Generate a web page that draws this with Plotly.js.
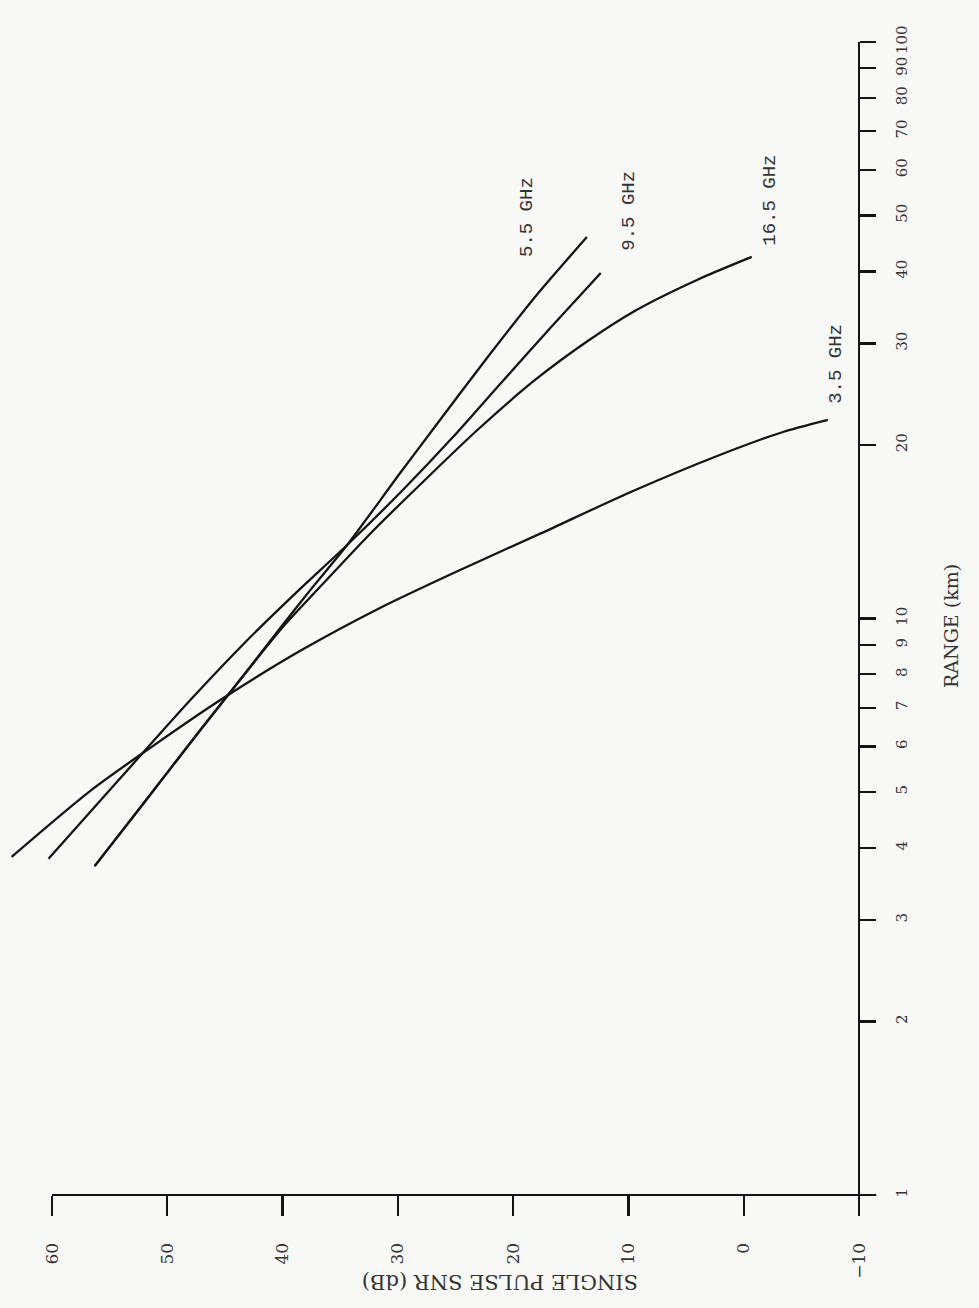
<!DOCTYPE html>
<html>
<head>
<meta charset="utf-8">
<script src="https://cdn.plot.ly/plotly-3.0.1.min.js"></script>
<style>
  html, body { margin: 0; padding: 0; background: #f8f8f6; }
  #chart { width: 979px; height: 1308px; }
</style>
</head>
<body>
<div id="chart"></div>
<script>
// ---- data (range in km, single pulse SNR in dB) ----
const seriesNames = ["3.5 GHz", "5.5 GHz", "9.5 GHz", "16.5 GHz"];

const range_3_5 = [3.86, 5.02, 5.96, 7.22, 8.78, 10.43, 12.14, 14.02, 16.64, 19.14, 20.98, 22.1];
const snr_3_5   = [63.5, 56.7, 51.5, 45.4, 38.5, 31.55, 24.6, 17.7, 9.6, 2.3, -3.15, -7.3];

const range_5_5 = [3.72, 4.84, 6.36, 7.82, 9.63, 11.2, 13.41, 17.88, 21.49, 28.08, 36.12, 45.88];
const snr_5_5   = [56.3, 51.85, 47.25, 43.7, 40.2, 37.6, 34.4, 29.8, 26.8, 22.4, 18.1, 13.6];

const range_9_5 = [3.83, 5.25, 7.22, 9.07, 11.12, 13.41, 16.84, 20.56, 25.62, 32.03, 39.75];
const snr_9_5   = [60.3, 54.2, 48.0, 43.3, 38.75, 34.4, 29.4, 25.3, 21.05, 16.7, 12.4];

const range_16_5 = [3.72, 4.84, 6.36, 7.82, 9.63, 11.43, 14.13, 17.39, 21.23, 25.93, 30.42, 34.29, 38.66, 42.38];
const snr_16_5   = [56.3, 51.85, 47.25, 43.7, 40.05, 36.6, 32.25, 27.65, 23.1, 18.1, 13.4, 9.3, 4.05, -0.7];

// axis ticks
const snrTicks = [60, 50, 40, 30, 20, 10, 0, -10];
const snrTickText = ["60", "50", "40", "30", "20", "10", "0", "\u221210"];
const rangeTicks = [1, 2, 3, 4, 5, 6, 7, 8, 9, 10, 20, 30, 40, 50, 60, 70, 80, 90, 100];
const rangeTickText = ["1", "2", "3", "4", "5", "6", "7", "8", "9", "10", "20", "30", "40", "50", "60", "70", "80", "90", "100"];

const xTitle = "RANGE (km)";
const yTitle = "SINGLE PULSE SNR (dB)";

// ---- build ----
const allSeries = [
  {name: seriesNames[0], r: range_3_5,  s: snr_3_5,  dx: 8,   dy: 56},
  {name: seriesNames[1], r: range_5_5,  s: snr_5_5,  dx: -60, dy: 20},
  {name: seriesNames[2], r: range_9_5,  s: snr_9_5,  dx: 28,  dy: 62},
  {name: seriesNames[3], r: range_16_5, s: snr_16_5, dx: 18,  dy: 57}
];

const lineColor = "#141414";
const textColor = "#333333";

const traces = allSeries.map(d => ({
  type: "scatter",
  mode: "lines",
  name: d.name,
  x: d.s,
  y: d.r,
  line: {color: lineColor, width: 2.3, shape: "spline", smoothing: 0.8},
  hoverinfo: "skip",
  showlegend: false
}));

const annotations = allSeries.map(d => ({
  x: d.s[d.s.length - 1],
  y: Math.log10(d.r[d.r.length - 1]),
  xref: "x", yref: "y",
  text: d.name,
  showarrow: false,
  textangle: -90,
  xshift: d.dx, yshift: d.dy,
  font: {family: "Liberation Mono, DejaVu Sans Mono, monospace", size: 19, color: textColor}
}));

annotations.push({
  xref: "paper", yref: "paper",
  x: 500 / 878, y: (1213 - 1296) / 1171,
  text: yTitle, showarrow: false, textangle: 180,
  font: {family: "DejaVu Serif, serif", size: 21, color: textColor}
});
annotations.push({
  xref: "paper", yref: "paper",
  x: 964 / 878, y: (1213 - 626) / 1171,
  text: xTitle, showarrow: false, textangle: -90,
  font: {family: "DejaVu Serif, serif", size: 19, color: textColor}
});

const snrLeft = 64.51;
const snrRight = -11.65;
const logBottom = -0.0312;
const logTop = 2.0;

const layout = {
  width: 979,
  height: 1308,
  paper_bgcolor: "#f8f8f6",
  plot_bgcolor: "rgba(0,0,0,0)",
  margin: {l: 0, r: 101, t: 42, b: 95},
  showlegend: false,
  xaxis: {
    range: [snrLeft, snrRight],
    showgrid: false, zeroline: false, showline: false,
    anchor: "free",
    position: (0 - logBottom) / (logTop - logBottom),
    tickmode: "array", tickvals: snrTicks, ticktext: snrTickText,
    ticks: "outside", ticklen: 20, tickwidth: 2.2, tickcolor: lineColor,
    tickangle: -90,
    ticklabelstandoff: 20,
    tickfont: {family: "DejaVu Serif, serif", size: 17, color: textColor}
  },
  yaxis: {
    type: "log",
    range: [logBottom, logTop],
    side: "right",
    anchor: "free",
    position: (snrLeft - (-10)) / (snrLeft - snrRight),
    showgrid: false, zeroline: false,
    showline: true, linewidth: 2.2, linecolor: lineColor,
    tickmode: "array", tickvals: rangeTicks, ticktext: rangeTickText,
    ticks: "outside", ticklen: 16, tickwidth: 2.2, tickcolor: lineColor,
    tickangle: -90,
    ticklabelstandoff: 13,
    tickfont: {family: "DejaVu Serif, serif", size: 15, color: textColor}
  },
  shapes: [{
    type: "line", xref: "x", yref: "y",
    x0: snrTicks[0], x1: snrTicks[snrTicks.length - 1] - 1.5,
    y0: rangeTicks[0], y1: rangeTicks[0],
    line: {color: lineColor, width: 2.2}
  }],
  annotations: annotations
};

Plotly.newPlot("chart", traces, layout, {displayModeBar: false, staticPlot: true});
</script>
</body>
</html>
